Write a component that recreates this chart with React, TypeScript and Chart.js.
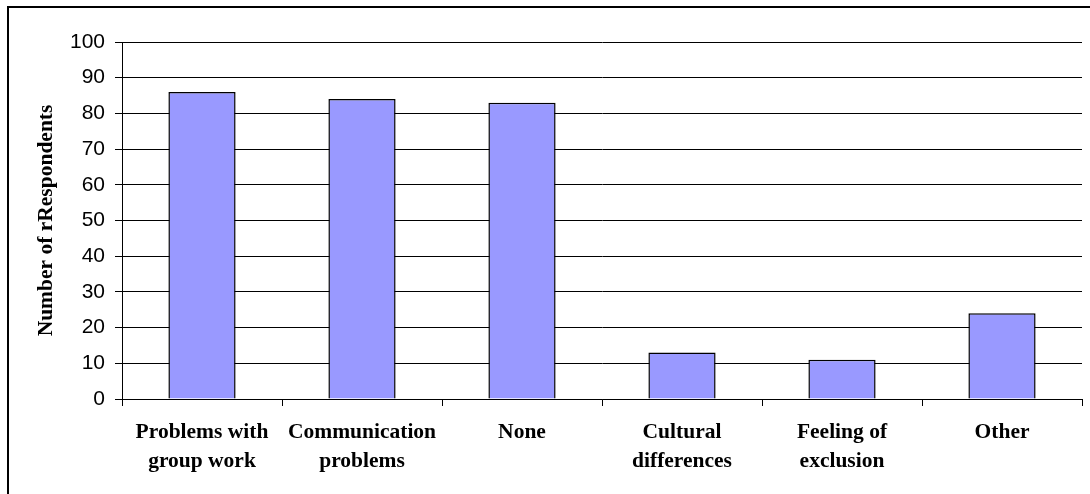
import React, { useEffect, useRef } from "react";
import { Chart, registerables } from "chart.js";

Chart.register(...registerables);

const categories: string[][] = [
  ["Problems with", "group work"],
  ["Communication", "problems"],
  ["None"],
  ["Cultural", "differences"],
  ["Feeling of", "exclusion"],
  ["Other"],
];
const respondents: number[] = [86, 84, 83, 13, 11, 24];
const yTicks: number[] = [0, 10, 20, 30, 40, 50, 60, 70, 80, 90, 100];
const yTitle = "Number of rRespondents";

const frame = {
  id: "frame",
  beforeDraw(chart: any) {
    const ctx = chart.ctx;
    ctx.save();
    ctx.fillStyle = "#ffffff";
    ctx.fillRect(0, 0, chart.width, chart.height);
    ctx.strokeStyle = "#000000";
    ctx.lineWidth = 2;
    ctx.beginPath();
    ctx.moveTo(8, chart.height);
    ctx.lineTo(8, 7);
    ctx.lineTo(chart.width, 7);
    ctx.stroke();
    ctx.restore();
  },
};

export default function App() {
  const ref = useRef<HTMLCanvasElement | null>(null);
  useEffect(() => {
    if (!ref.current) return;
    const chart = new Chart(ref.current, {
      type: "bar",
      data: {
        labels: categories,
        datasets: [
          {
            data: respondents,
            backgroundColor: "#9999FF",
            borderColor: "#000000",
            borderWidth: 1.5,
            barPercentage: 0.42,
            categoryPercentage: 1,
          },
        ],
      },
      options: {
        responsive: false,
        animation: false,
        devicePixelRatio: 1,
        layout: { padding: { left: 0, top: 42, right: 8, bottom: 0 } },
        plugins: { legend: { display: false }, tooltip: { enabled: false } },
        scales: {
          x: {
            afterFit: (s: any) => {
              s.height = 95;
            },
            grid: {
              offset: true,
              drawOnChartArea: false,
              drawTicks: true,
              tickLength: 7,
              color: "#000000",
            },
            border: { color: "#000000", width: 1 },
            ticks: {
              color: "#000000",
              padding: 12,
              maxRotation: 0,
              autoSkip: false,
              font: { family: "'Liberation Serif', 'Times New Roman', serif", size: 21.5, weight: "bold", lineHeight: 1.36 },
            },
          },
          y: {
            min: 0,
            max: 100,
            afterFit: (s: any) => {
              s.width = 122;
            },
            afterBuildTicks: (s: any) => {
              s.ticks = yTicks.map((v) => ({ value: v }));
            },
            grid: { color: "#000000", tickLength: 7, lineWidth: 1 },
            border: { color: "#000000", width: 1 },
            ticks: {
              color: "#000000",
              padding: 10,
              font: { family: "'Liberation Sans', Arial, sans-serif", size: 21 },
            },
            title: {
              display: true,
              text: yTitle,
              color: "#000000",
              padding: { top: 34, bottom: 0 },
              font: { family: "'Liberation Serif', 'Times New Roman', serif", size: 21.5, weight: "bold" },
            },
          },
        },
      },
      plugins: [frame],
    });
    return () => chart.destroy();
  }, []);
  return (
    <canvas
      ref={ref}
      width={1090}
      height={494}
      style={{ position: "absolute", left: 0, top: 0, width: 1090, height: 494 }}
    />
  );
}
